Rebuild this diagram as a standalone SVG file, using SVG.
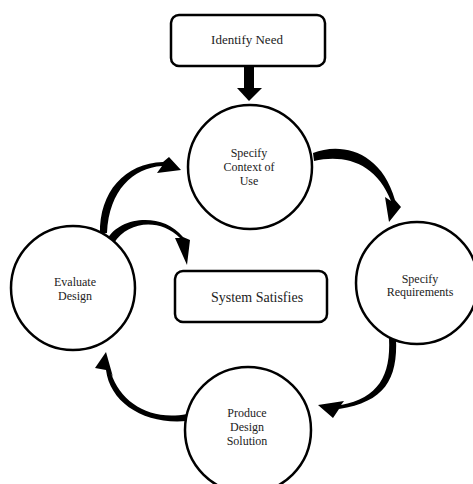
<svg xmlns="http://www.w3.org/2000/svg" width="473" height="484" viewBox="0 0 473 484">
<style>
.box{fill:#fff;stroke:#000;stroke-width:2.5}
.circ{fill:#fff;stroke:#000;stroke-width:2.5}
.lbl{fill:#222;text-anchor:middle}
.arr{fill:#000;stroke:none}
</style>
<rect width="473" height="484" fill="#fff"/>
<g id="connectors">
<rect class="arr" x="244" y="66" width="10" height="23"/>
<polygon class="arr" points="237,88 262,88 249,101"/>
<path class="arr" d="M313,153 C340,142 381,150 395,200 L401,207 L389,222 L385,197 L391,201 C376,163 345,154 314,161 Z"/>
<path class="arr" d="M389,338 C391,376 378,398 341,405 L344,401 L318,405 L333,418 L339,409 C384,402 398,380 396,338 Z"/>
<path class="arr" d="M187,414 C150,421 121,403 111,373 L113,377 L106,352 L95,368 L106,370 C110,403 145,425 187,421 Z"/>
<path class="arr" d="M100,234 C99,192 125,163 163,162 L169,157 L181,170 L157,173 L162,166 C133,168 109,190 107,233 Z"/>
<path class="arr" d="M107,240 C118,217 162,211 183,237 L190,240 L187,265 L175,238 L180,238 C160,218 128,221 114,243 Z"/>
</g>
<g font-family="'Liberation Serif', 'DejaVu Serif', 'Times New Roman', serif">
<g id="identify-need">
<rect class="box" x="171" y="15" width="154" height="51" rx="8"/>
<text class="lbl" x="247" y="44" font-size="13">Identify Need</text>
</g>
<g id="specify-context">
<circle class="circ" cx="250" cy="167" r="62"/>
<text class="lbl" x="249" y="157" font-size="12">Specify</text>
<text class="lbl" x="249" y="171" font-size="12">Context of</text>
<text class="lbl" x="249" y="185" font-size="12">Use</text>
</g>
<g id="specify-requirements">
<circle class="circ" cx="417" cy="283" r="61"/>
<text class="lbl" x="420" y="283" font-size="12">Specify</text>
<text class="lbl" x="420" y="296" font-size="12">Requirements</text>
</g>
<g id="produce-design">
<circle class="circ" cx="248" cy="430" r="63"/>
<text class="lbl" x="247" y="417" font-size="12">Produce</text>
<text class="lbl" x="247" y="431" font-size="12">Design</text>
<text class="lbl" x="247" y="445" font-size="12">Solution</text>
</g>
<g id="evaluate-design">
<circle class="circ" cx="73" cy="288" r="62"/>
<text class="lbl" x="75" y="286" font-size="12">Evaluate</text>
<text class="lbl" x="75" y="300" font-size="12">Design</text>
</g>
<g id="system-satisfies">
<rect class="box" x="175" y="271" width="152" height="51" rx="8"/>
<text class="lbl" x="257" y="302" font-size="14">System Satisfies</text>
</g>
</g>
</svg>
